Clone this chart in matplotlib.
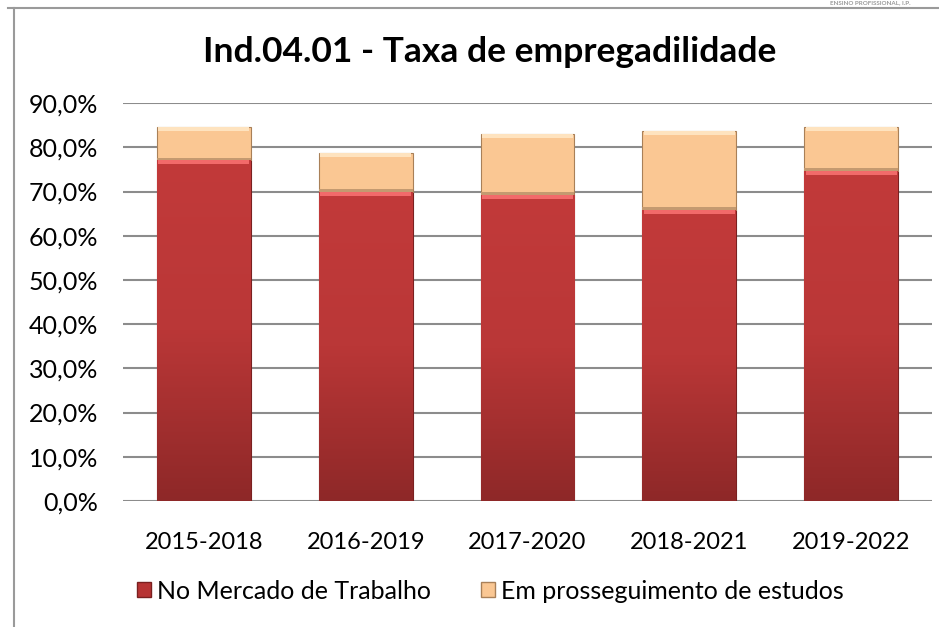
import numpy as np
import matplotlib
matplotlib.use('Agg')
import matplotlib.pyplot as plt
from matplotlib.lines import Line2D
from matplotlib.patches import Patch

plt.rcParams['font.family'] = ['Lato', 'DejaVu Sans']

# data
periods = ['2015-2018', '2016-2019', '2017-2020', '2018-2021', '2019-2022']
mercado = [77.1, 70.0, 69.2, 65.8, 74.7]
estudos = [7.6, 8.7, 13.8, 18.0, 10.0]
yticks = [0, 10, 20, 30, 40, 50, 60, 70, 80, 90]

red = '#B73434'
red_top = '#F26A6A'
orange = '#FAC793'
orange_top = '#FEE3BF'

fig = plt.figure(figsize=(9.39, 6.27), dpi=100)
ax = fig.add_axes([0.131, 0.201, 0.8615, 0.6345])

x = np.arange(len(periods))
w = 0.58
b1 = ax.bar(x, mercado, w, color=red, edgecolor='#7A2020', linewidth=0.8, zorder=3)
b2 = ax.bar(x, estudos, w, bottom=mercado, color=orange, edgecolor='#A98058',
            linewidth=0.8, zorder=3)

# darker shade toward the bottom of the red segments
grad = np.linspace(0, 1, 256).reshape(-1, 1)
cmap = matplotlib.colors.LinearSegmentedColormap.from_list(
    'r', ['#8E2828', '#BA3737', '#C23A3A'])
for bar in b1:
    bx, by = bar.get_x(), bar.get_y()
    bw, bh = bar.get_width(), bar.get_height()
    im = ax.imshow(grad, extent=(bx, bx + bw, by, by + bh), origin='lower',
                   cmap=cmap, aspect='auto', zorder=3.5)
    im.set_clip_path(bar)

# bevel highlight at the top of each segment
tot = [m + e for m, e in zip(mercado, estudos)]
ax.bar(x, [0.9] * len(x), w * 0.97, bottom=[m - 0.9 for m in mercado],
       color=red_top, linewidth=0, zorder=4)
ax.bar(x, [0.9] * len(x), w * 0.97, bottom=[t - 0.9 for t in tot],
       color=orange_top, linewidth=0, zorder=4)
ax.bar(x, [0.6] * len(x), w, bottom=mercado, color='#C49A70', linewidth=0, zorder=4)

ax.set_xlim(-0.5, len(periods) - 0.5)
ax.set_ylim(0, 90)
ax.set_yticks(yticks)
ax.set_yticklabels([f'{v:.1f}%'.replace('.', ',') for v in yticks], fontsize=18)
ax.set_xticks(x)
ax.set_xticklabels(periods, fontsize=17)
ax.tick_params(axis='x', length=0, pad=22)
ax.tick_params(axis='y', length=0, pad=18)
ax.yaxis.grid(True, color='#8C8C8C', linewidth=1.5, zorder=0)
ax.set_axisbelow(True)
for s in ax.spines.values():
    s.set_visible(False)

fig.text(0.521, 0.917, 'Ind.04.01 - Taxa de empregadilidade', ha='center',
         va='center', fontsize=25.5, fontweight='bold')

handles = [Patch(facecolor=red, edgecolor='#7A2020'),
           Patch(facecolor=orange, edgecolor='#A98058')]
fig.legend(handles, ['No Mercado de Trabalho', 'Em prosseguimento de estudos'],
           loc='center', bbox_to_anchor=(0.522, 0.057), ncol=2, frameon=False,
           fontsize=18, handlelength=0.55, handleheight=0.55, handletextpad=0.25,
           columnspacing=2.0)

# frame of the surrounding document box
fig.add_artist(Line2D([0.015, 0.015], [0, 0.988], color='#9A9A9A', lw=1.5))
fig.add_artist(Line2D([0.008, 1.0], [0.988, 0.988], color='#9A9A9A', lw=1.5))
fig.text(0.97, 0.999, 'ENSINO PROFISSIONAL, I.P.', ha='right', va='top',
         fontsize=4.5, fontweight='bold', color='#9A9A9A')

fig.savefig('out.png', dpi=100)
